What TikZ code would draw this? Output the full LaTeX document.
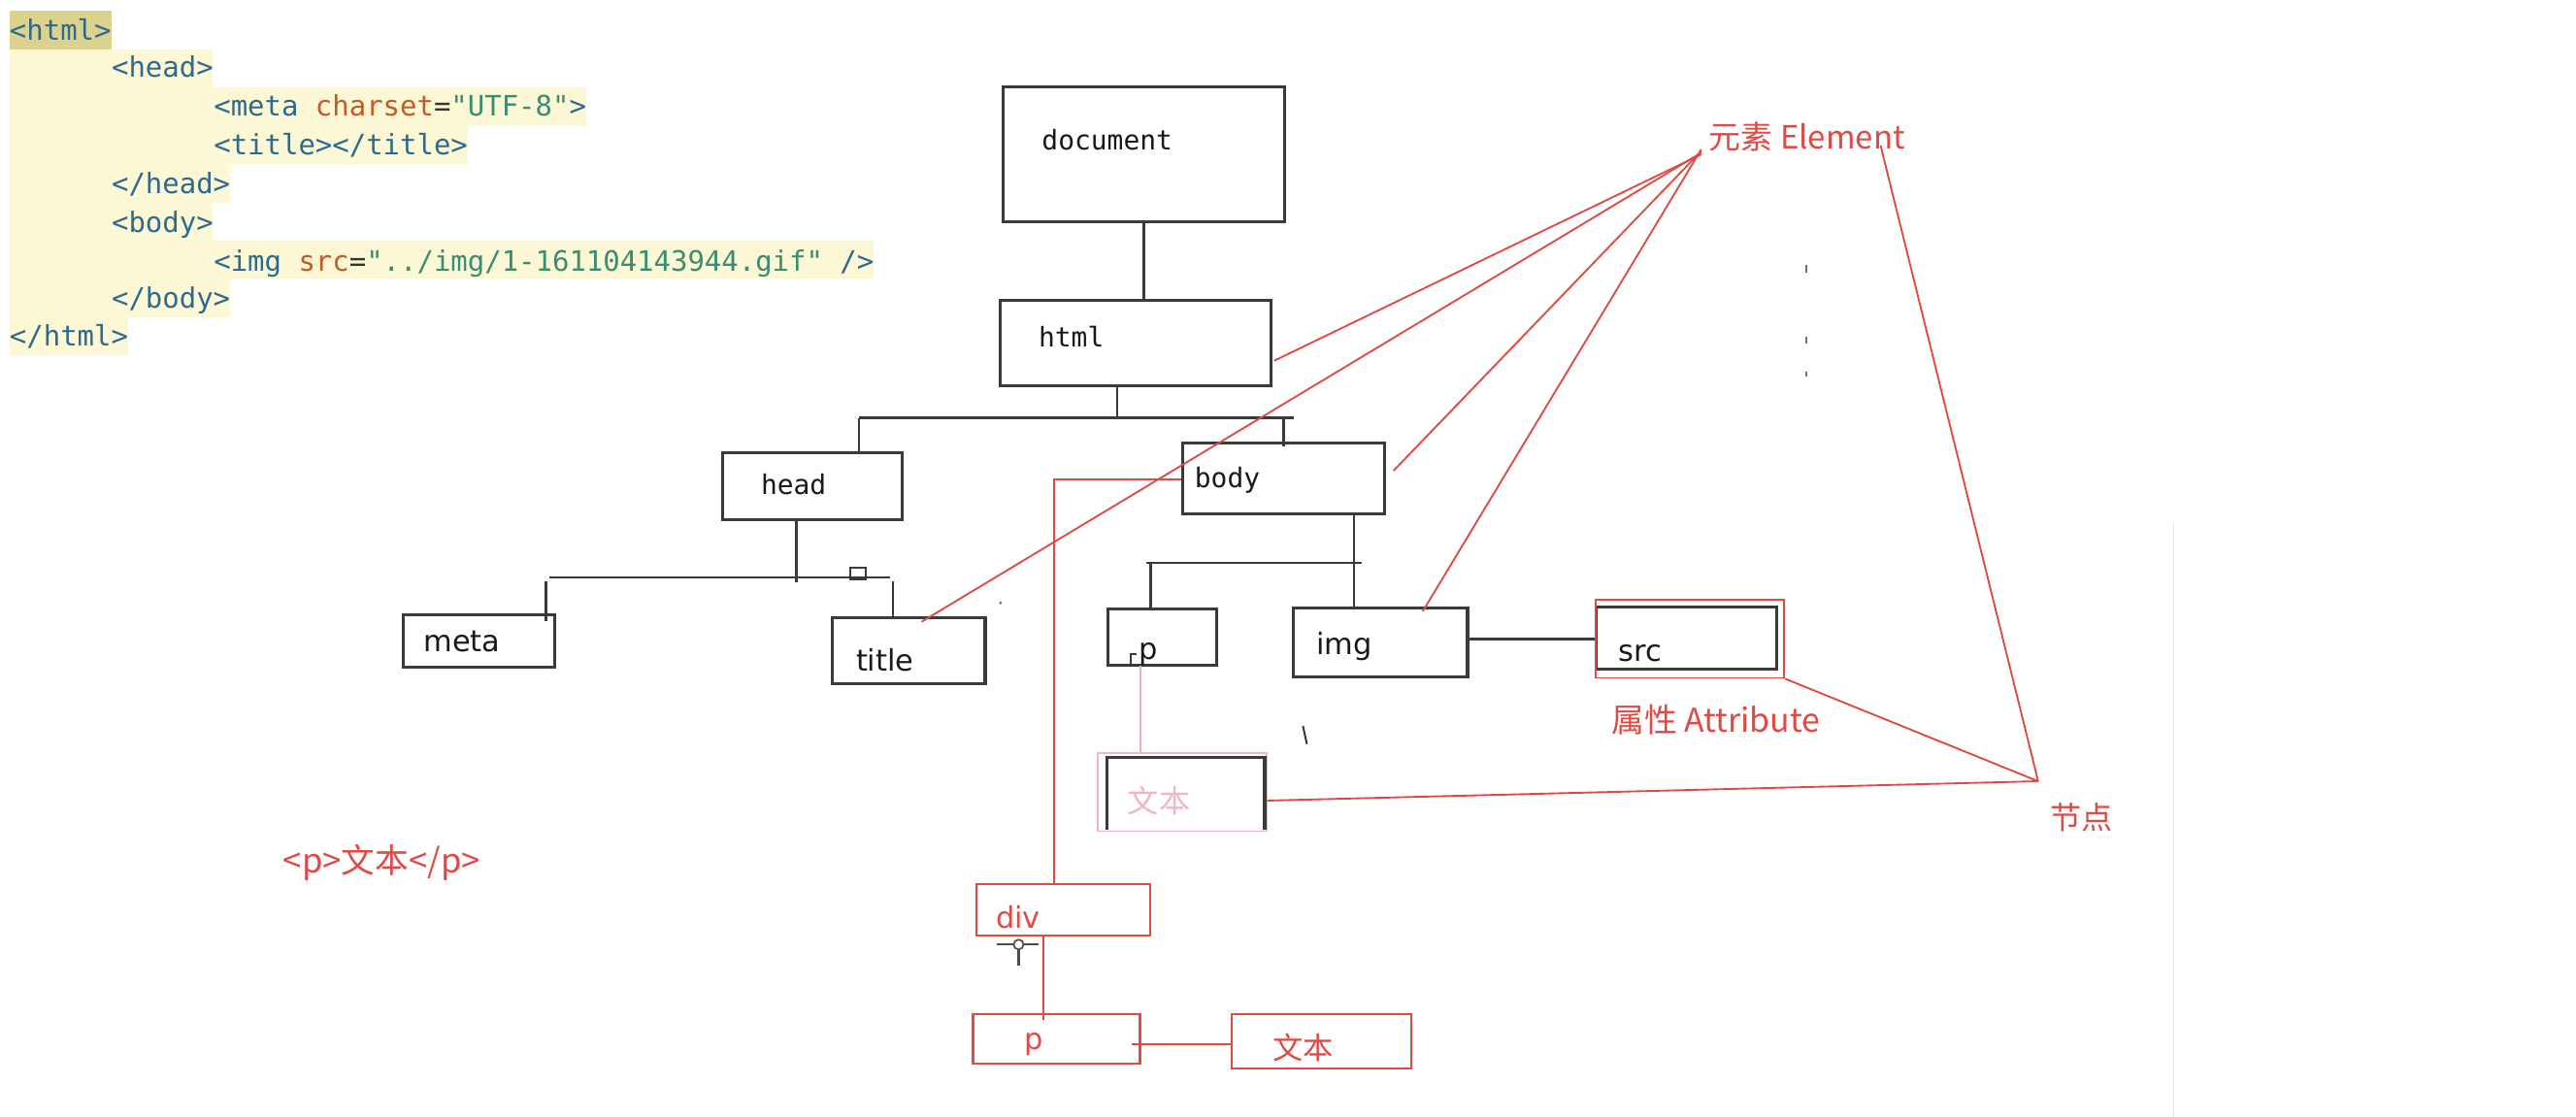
\documentclass[tikz,border=0pt]{standalone}
\usepackage{fontspec}
\setmonofont{DejaVu Sans Mono}
\newfontfamily\cjk{Noto Sans CJK SC}
\newfontfamily\dvs{DejaVu Sans}
\usetikzlibrary{calc}
\definecolor{tagc}{HTML}{2E6A8E}
\definecolor{attrc}{HTML}{C65A24}
\definecolor{valc}{HTML}{3A8C72}
\definecolor{eqc}{HTML}{333333}
\definecolor{hlA}{HTML}{DCD28E}
\definecolor{hlB}{HTML}{FCF7D4}
\definecolor{boxc}{HTML}{3A3A3A}
\definecolor{redc}{HTML}{E04A44}
\definecolor{pinkc}{HTML}{F2B7BE}
\definecolor{pinkline}{HTML}{EDB0B8}
\begin{document}
\begin{tikzpicture}[x=1pt,y=-1pt,
  code/.style={font=\ttfamily\fontsize{17.11}{20}\selectfont, inner sep=0, anchor=mid west, text=tagc, yshift=-3.5pt},
  lblm/.style={font=\ttfamily\fontsize{16.5}{20}\selectfont, inner sep=0, anchor=mid west, text=black!90, yshift=-3.5pt},
  lbls/.style={font=\dvs\fontsize{18}{22}\selectfont, inner sep=0, anchor=mid west, text=black!90, yshift=-3.5pt},
  redlbl/.style={font=\cjk\fontsize{19}{22}\selectfont, inner sep=0, anchor=mid west, text=redc, yshift=-4.5pt},
  blackbox/.style={draw=boxc, line width=1.8pt, inner sep=0},
  redbox/.style={draw=redc, line width=1.3pt, inner sep=0},
  tree/.style={draw=boxc, line width=1.6pt},
  redline/.style={draw=redc, line width=1.1pt},
  hl/.style={fill=hlB}
]
\useasboundingbox (0,0) rectangle (1568,680);
\fill[white] (0,0) rectangle (1568,680);

% ---------- code block ----------
\fill[hlA] (5.7,6.5) rectangle (67.8,30);
\fill[hl] (5.7,30) rectangle (129.6,53.3);
\fill[hl] (5.7,53.3) rectangle (356.6,76.6);
\fill[hl] (5.7,76.6) rectangle (284.5,99.9);
\fill[hl] (5.7,99.9) rectangle (139.9,123.2);
\fill[hl] (5.7,123.2) rectangle (129.6,146.5);
\fill[hl] (5.7,146.5) rectangle (531.7,169.8);
\fill[hl] (5.7,169.8) rectangle (139.9,193.1);
\fill[hl] (5.7,193.1) rectangle (77.8,216.4);

\node[code] (c1) at (5.7,18.7) {<html>};
\node[code] (c2) at (67.8,41.4) {<head>};
\node[code] (c3) at (130,65) {<meta \textcolor{attrc}{charset}\textcolor{eqc}{=}\textcolor{valc}{"UTF-8"}>};
\node[code] (c4) at (130,88.6) {<title></title>};
\node[code] (c5) at (67.8,112.2) {</head>};
\node[code] (c6) at (67.8,135.9) {<body>};
\node[code] (c7) at (130,159.5) {<img \textcolor{attrc}{src}\textcolor{eqc}{=}\textcolor{valc}{"../img/1-161104143944.gif"} />};
\node[code] (c8) at (67.8,182.2) {</body>};
\node[code] (c9) at (5.7,204.8) {</html>};

% ---------- black tree boxes ----------
\node[blackbox, minimum width=171.8pt, minimum height=81.7pt] (doc) at (696.3,94) {};
\node[blackbox, minimum width=164.7pt, minimum height=52pt] (html) at (691.3,208.7) {};
\node[blackbox, minimum width=109.1pt, minimum height=40.9pt] (head) at (494.4,296.2) {};
\node[blackbox, minimum width=123.3pt, minimum height=42.9pt] (body) at (781.4,291.3) {};
\node[blackbox, minimum width=92.5pt, minimum height=31.9pt] (meta) at (291.6,390) {};
\node[blackbox, minimum width=93.3pt, minimum height=40.4pt] (title) at (553,396.2) {};
\node[blackbox, minimum width=66.2pt, minimum height=34.2pt] (pbox) at (707.5,388) {};
\node[blackbox, minimum width=106pt, minimum height=42.2pt] (img) at (840.3,391) {};
\node[blackbox, minimum width=110pt, minimum height=37.6pt] (src) at (1026.3,388.5) {};
\node[redbox, line width=1.1pt, minimum width=114.8pt, minimum height=47.3pt] (srcred) at (1028.6,389) {};

% text box (pink) under p
\node[draw=pinkc, line width=1.1pt, inner sep=0, minimum width=102.6pt, minimum height=47.6pt] (txtpink) at (719.5,482.2) {};
\draw[boxc, line width=1.8pt] (673.7,505) -- (673.7,461.2) -- (769.8,461.2) -- (769.8,505);

% labels
\node[lblm] (docT) at (634,85.7) {document};
\node[lblm] (htmlT) at (632,205.8) {html};
\node[lblm] (headT) at (463,295.4) {head};
\node[lblm] (bodyT) at (727,291.5) {body};
\node[lbls] (metaT) at (257.7,390.9) {meta};
\node[lbls] (titleT) at (520.9,402.8) {title};
\node[lbls] (pT) at (693,395.8) {p};
\node[lbls] (imgT) at (801,393) {img};
\node[lbls] (srcT) at (985,396.8) {src};
\node[redlbl, text=pinkc] (txtpinkT) at (686.3,488.4) {文本};

% ---------- tree connectors ----------
\coordinate (hb) at (680,254.4);
\coordinate (hbL) at (522.9,254.4);
\coordinate (hbR) at (787.3,254.4);
\draw[tree] (doc.south) -- (doc.south |- html.north);
\draw[tree] (html.south -| hb) -- (hb);
\draw[tree] (hbL) -- (hbR);
\draw[tree] (hbL) -- (hbL |- head.north);
\draw[tree] (body.north |- hbL) -- ([yshift=-3pt]body.north);
\coordinate (hd) at (484.8,351.5);
\coordinate (hdL) at (334.3,351.5);
\coordinate (hdR) at (541.6,351.5);
\coordinate (metaDrop) at (332.2,354);
\coordinate (titleDrop) at (543.6,354);
\draw[tree] (hd |- head.south) -- ([yshift=-3pt]hd);
\draw[tree] (hdL) -- (hdR);
\draw[tree] (metaDrop) -- ([yshift=-5pt]metaDrop |- meta.north);
\draw[tree] (titleDrop) -- (titleDrop |- title.north);
\draw[boxc, line width=1.2pt] (517.8,345.7) rectangle (527,352.6);
\coordinate (bb) at (824.2,342.7);
\coordinate (bbL) at (698,342.7);
\coordinate (pDrop) at (700.3,342.7);
\coordinate (imgSrc) at (0,389);
\draw[tree] (bb |- body.south) -- (bb |- img.north);
\draw[tree] (bbL) -- ([xshift=4.5pt]bb);
\draw[tree] (pDrop) -- (pDrop |- pbox.north);
\draw[tree] (img.east |- imgSrc) -- (src.west |- imgSrc);
% small cursor mark near p
\draw[boxc, line width=1.2pt] (688,405) -- (688,398) -- (692,398);

% ---------- red boxes ----------
\node[redbox, minimum width=105.5pt, minimum height=31.5pt] (div) at (647.3,554) {};
\node[redbox, minimum width=101.6pt, minimum height=30.2pt] (p2) at (643.1,632.4) {};
\node[redbox, minimum width=109.2pt, minimum height=32.9pt] (txt2) at (804.3,633.8) {};
\node[lbls, text=redc] (divT) at (606,559.3) {div};
\node[lbls, text=redc] (p2T) at (623.6,633) {p};
\node[redlbl, font=\cjk\fontsize{18.5}{22}\selectfont] (txt2T) at (774.5,638) {文本};

\coordinate (dv) at (641.7,292);
\coordinate (dp) at (635.1,569.7);
\coordinate (pt) at (689,635.5);
\coordinate (pk) at (694,405);
\draw[redline] (body.west |- dv) -- (dv) -- (dv |- div.north);
\draw[redline] (dp) -- ([yshift=-4pt]dp |- p2.north);
\draw[redline] (pt) -- (txt2.west |- pt);
\draw[draw=pinkline, line width=1.1pt] (pk) -- (pk |- txtpink.north);

% ---------- annotations ----------
\node[redlbl, font=\cjk\fontsize{19.5}{22}\selectfont] (elemT) at (1040,84) {元素 Element};
\node[redlbl, font=\cjk\fontsize{20}{22}\selectfont] (attrT) at (980.7,439.2) {属性 Attribute};
\node[redlbl] (nodeT) at (1247.6,498) {节点};
\node[redlbl, font=\cjk\fontsize{20.5}{22}\selectfont] (pcode) at (172.2,524.8) {<p>文本</p>};

\coordinate (ea) at (1035.5,94);
\coordinate (na) at (1240.6,475.6);
\coordinate (eHtml) at (775.6,219.6);
\coordinate (eTitle) at (561,378.5);
\coordinate (eBody) at (848.3,286.5);
\coordinate (eImg) at (866,372.2);
\coordinate (nTop) at (1144.7,88.6);
\coordinate (tp) at (0,487.4);
\draw[redline] (ea) -- (eHtml);
\draw[redline] ([yshift=1pt]ea) -- (eTitle);
\draw[redline] ([yshift=2pt]ea) -- (eBody);
\draw[redline] ([yshift=3pt]ea) -- (eImg);
\draw[redline] (nTop) -- (na);
\draw[redline] (srcred.south east) -- (na);
\draw[redline] (txtpink.east |- tp) -- (na);

% ---------- small marks ----------
\draw[boxc, line width=1.2pt] (793.1,442) -- (795.5,453);
\draw[black!55, line width=0.8pt] (1099.5,161) -- (1099.5,166);
\draw[black!55, line width=0.8pt] (1099.5,205) -- (1099.5,209);
\draw[black!55, line width=0.8pt] (1099.5,226) -- (1099.5,229);
\fill[black!60] (609,367) circle (0.9);
\draw[black!10, line width=0.8pt] (1323,318) -- (1323,680);
% cursor crosshair
\draw[black!70, line width=1.3pt] (606.5,575) -- (616.5,575) (623.5,575) -- (631.9,575) (620,578.5) -- (620,588);
\draw[black!70, line width=1pt] (620,575) circle (3);
\end{tikzpicture}
\end{document}
